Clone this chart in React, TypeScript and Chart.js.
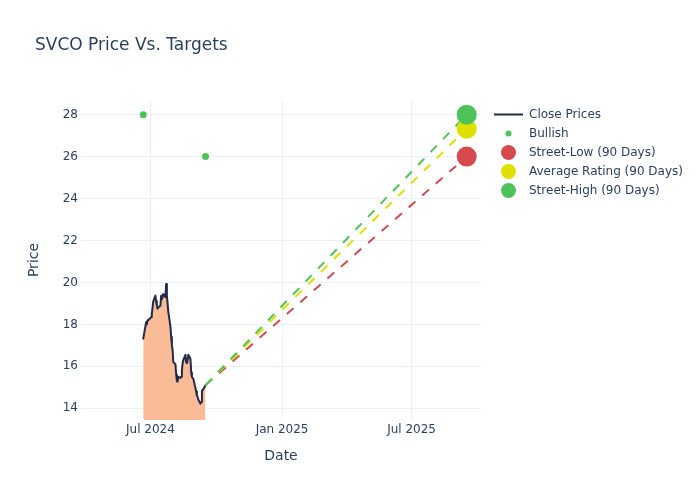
import React, { useEffect, useRef } from "react";
import { Chart, registerables } from "chart.js";

Chart.register(...registerables);

const closeDates: string[] = [
  "2024-06-21", "2024-06-24", "2024-06-25", "2024-06-26", "2024-06-27", "2024-06-28",
  "2024-07-01", "2024-07-02", "2024-07-03", "2024-07-05", "2024-07-08", "2024-07-09",
  "2024-07-10", "2024-07-11", "2024-07-12", "2024-07-15", "2024-07-16", "2024-07-17",
  "2024-07-18", "2024-07-19", "2024-07-22", "2024-07-23", "2024-07-24", "2024-07-25",
  "2024-07-26", "2024-07-29", "2024-07-30", "2024-07-31", "2024-08-01", "2024-08-02",
  "2024-08-05", "2024-08-06", "2024-08-07", "2024-08-08", "2024-08-09", "2024-08-12",
  "2024-08-13", "2024-08-14", "2024-08-15", "2024-08-16", "2024-08-19", "2024-08-20",
  "2024-08-21", "2024-08-22", "2024-08-23", "2024-08-26", "2024-08-27", "2024-08-28",
  "2024-08-29", "2024-08-30", "2024-09-03", "2024-09-04", "2024-09-05", "2024-09-06",
  "2024-09-09", "2024-09-10", "2024-09-11", "2024-09-12", "2024-09-13", "2024-09-16",
];
const closePrices: number[] = [
  17.32, 17.9, 18.1, 18.0, 18.2, 18.2,
  18.3, 18.35, 18.5, 19.1, 19.37, 19.1,
  18.9, 18.75, 18.8, 18.9, 19.37, 19.2,
  19.3, 19.45, 19.3, 19.92, 19.4, 19.0,
  18.6, 17.9, 17.4, 17.0, 16.8, 16.2,
  16.1, 15.6, 15.3, 15.27, 15.5, 15.45,
  15.5, 15.8, 16.15, 16.3, 16.55, 16.2,
  16.15, 16.3, 16.55, 16.35, 15.7, 15.5,
  15.45, 15.4, 14.8, 14.6, 14.55, 14.4,
  14.22, 14.3, 14.8, 14.9, 14.9, 15.1,
];

const bullishDates: string[] = ["2024-06-21", "2024-09-16"];
const bullishValues: number[] = [28, 26];

const targetDate = "2025-09-16";
const targetLabels: string[] = ["Street-Low (90 Days)", "Average Rating (90 Days)", "Street-High (90 Days)"];
const targetValues: number[] = [26, 27.33, 28];
const targetColors: string[] = ["#d64a4f", "#e0e000", "#4ec35a"];

const xTickDates: string[] = ["2024-07-01", "2025-01-01", "2025-07-01"];
const xTickLabels: string[] = ["Jul 2024", "Jan 2025", "Jul 2025"];
const yTicks: number[] = [14, 16, 18, 20, 22, 24, 26, 28];

const xRange: string[] = ["2024-03-26", "2025-10-06"];
const yRange: number[] = [13.44, 28.7];

const FONT = "'DejaVu Sans', sans-serif";
const TEXT = "#2a3f5f";
const GRID = "#ebf0f8";
const LINE = "#222a45";
const FILL = "rgb(250,188,150)";
const BULL = "#4ec35a";

const day = (s: string) => Date.parse(s + "T00:00:00Z") / 86400000;

const overlay = {
  id: "overlay",
  afterDraw(chart: any) {
    const ctx = chart.ctx as CanvasRenderingContext2D;
    const area = chart.chartArea;
    ctx.save();
    ctx.fillStyle = TEXT;
    ctx.font = `17px ${FONT}`;
    ctx.textAlign = "left";
    ctx.textBaseline = "alphabetic";
    ctx.fillText("SVCO Price Vs. Targets", 35, 50);

    ctx.font = `14px ${FONT}`;
    ctx.textAlign = "center";
    ctx.textBaseline = "middle";
    ctx.fillText("Date", (area.left + area.right) / 2, 456.5);
    ctx.save();
    ctx.translate(34, (area.top + area.bottom) / 2);
    ctx.rotate(-Math.PI / 2);
    ctx.fillText("Price", 0, 0);
    ctx.restore();

    // legend
    const lx = 508.5;
    const tx = 529;
    const rows = [114.5, 133.5, 152.5, 171.5, 190.5];
    ctx.strokeStyle = LINE;
    ctx.lineWidth = 2;
    ctx.beginPath();
    ctx.moveTo(494, rows[0]);
    ctx.lineTo(523, rows[0]);
    ctx.stroke();
    ctx.fillStyle = BULL;
    ctx.beginPath();
    ctx.arc(lx, rows[1], 3, 0, Math.PI * 2);
    ctx.fill();
    targetColors.forEach((c, i) => {
      ctx.fillStyle = c;
      ctx.beginPath();
      ctx.arc(lx, rows[2 + i], 7.5, 0, Math.PI * 2);
      ctx.fill();
    });
    ctx.fillStyle = TEXT;
    ctx.font = `12px ${FONT}`;
    ctx.textAlign = "left";
    ctx.textBaseline = "middle";
    const names = ["Close Prices", "Bullish", ...targetLabels];
    names.forEach((n, i) => ctx.fillText(n, tx, rows[i] + 0.5));
    ctx.restore();
  },
};

export default function App() {
  const ref = useRef<HTMLCanvasElement | null>(null);
  useEffect(() => {
    if (!ref.current) return;
    const lastDate = closeDates[closeDates.length - 1];
    const lastPrice = closePrices[closePrices.length - 1];
    const datasets: any[] = [];
    datasets.push({
      type: "line",
      label: "Close Prices",
      data: closeDates.map((d, i) => ({ x: day(d), y: closePrices[i] })),
      borderColor: LINE,
      borderWidth: 2,
      borderJoinStyle: "round",
      borderCapStyle: "round",
      backgroundColor: FILL,
      fill: "start",
      pointRadius: 0,
      tension: 0,
      order: 5,
    });
    targetValues.forEach((v, i) => {
      datasets.push({
        type: "line",
        label: targetLabels[i] + " line",
        data: [
          { x: day(lastDate), y: lastPrice },
          { x: day(targetDate), y: v },
        ],
        borderColor: targetColors[i],
        borderWidth: 2,
        borderDash: [9, 9],
        pointRadius: 0,
        fill: false,
        order: 4 - i * 0.1,
      });
    });
    datasets.push({
      type: "scatter",
      label: "Bullish",
      data: bullishDates.map((d, i) => ({ x: day(d), y: bullishValues[i] })),
      backgroundColor: BULL,
      borderWidth: 0,
      pointRadius: 3.5,
      order: 3,
    });
    targetValues.forEach((v, i) => {
      datasets.push({
        type: "scatter",
        label: targetLabels[i],
        data: [{ x: day(targetDate), y: v }],
        backgroundColor: targetColors[i],
        borderWidth: 0,
        pointRadius: 10,
        order: 2 - i * 0.1,
      });
    });

    const chart = new Chart(ref.current, {
      type: "line",
      data: { datasets },
      options: {
        responsive: false,
        animation: false,
        devicePixelRatio: 1,
        layout: { padding: { left: 0, right: 219, top: 100, bottom: 0 } },
        plugins: {
          legend: { display: false },
          title: { display: false },
          tooltip: { enabled: false },
        },
        scales: {
          x: {
            type: "linear",
            min: day(xRange[0]),
            max: day(xRange[1]),
            grid: { color: GRID, lineWidth: 1, drawTicks: false },
            border: { display: false },
            afterBuildTicks: (s: any) => {
              s.ticks = xTickDates.map((d) => ({ value: day(d) }));
            },
            afterFit: (s: any) => {
              s.height = 80;
            },
            ticks: {
              color: TEXT,
              font: { family: FONT, size: 12 },
              padding: 3,
              maxRotation: 0,
              autoSkip: false,
              callback: (v: any) => {
                const idx = xTickDates.findIndex((d) => Math.abs(day(d) - v) < 0.5);
                return idx >= 0 ? xTickLabels[idx] : "";
              },
            },
          },
          y: {
            type: "linear",
            min: yRange[0],
            max: yRange[1],
            grid: { color: GRID, lineWidth: 1, drawTicks: false },
            border: { display: false },
            afterBuildTicks: (s: any) => {
              s.ticks = yTicks.map((v) => ({ value: v }));
            },
            afterFit: (s: any) => {
              s.width = 81;
            },
            ticks: {
              color: TEXT,
              font: { family: FONT, size: 12 },
              padding: 3,
              callback: (v: any) => String(v),
            },
          },
        },
      } as any,
      plugins: [overlay],
    });
    return () => chart.destroy();
  }, []);
  return (
    <div style={{ position: "absolute", left: 0, top: 0, width: 700, height: 500, background: "#fff" }}>
      <canvas ref={ref} width={700} height={500} style={{ width: 700, height: 500 }} />
    </div>
  );
}
